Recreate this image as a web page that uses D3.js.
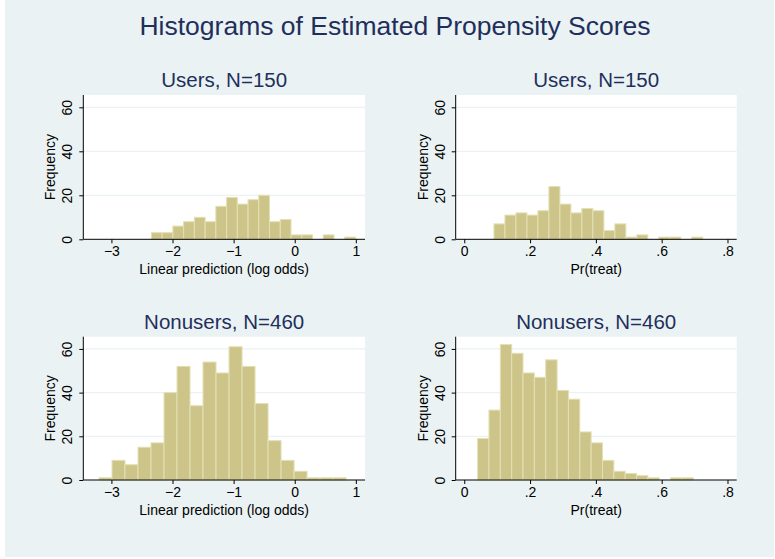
<!DOCTYPE html>
<html>
<head>
<meta charset="utf-8">
<script src="https://cdn.jsdelivr.net/npm/d3@7"></script>
<style>
  body { margin: 0; background: #fff; }
  text { font-family: "Liberation Sans", Arial, sans-serif; }
</style>
</head>
<body>
<div id="chart"></div>
<script>
// histogram counts (19 equal-width bins each)
var usersLogit    = [3, 3, 6, 8, 10, 8, 15, 19, 16, 18, 20, 8, 9, 2, 2, 0, 2, 0, 1];
var nonusersLogit = [1, 9, 7, 15, 17, 40, 52, 34, 54, 49, 61, 52, 35, 18, 9, 4, 1, 1, 1];
var usersPr       = [7, 11, 12, 11, 13, 24, 16, 12, 14, 13, 4, 7, 1, 2, 0, 1, 1, 0, 1];
var nonusersPr    = [19, 32, 62, 58, 49, 47, 55, 41, 37, 22, 17, 9, 4, 3, 2, 1, 0, 1, 1];

// first bin edge and bin width of each histogram
var binStart = { usersLogit: -2.345, nonusersLogit: -3.203, usersPr: 0.0903, nonusersPr: 0.0406 };
var binWidth = { usersLogit: 0.1757, nonusersLogit: 0.2128, usersPr: 0.0334, nonusersPr: 0.0345 };

var logitTicks = [-3, -2, -1, 0, 1];
var prTicks = [0, 0.2, 0.4, 0.6, 0.8];
var freqTicks = [0, 20, 40, 60];

var width = 775, height = 559;

var svg = d3.select("#chart").append("svg")
    .attr("width", width)
    .attr("height", height);

// graph region background
svg.append("rect")
    .attr("x", 5).attr("y", 0)
    .attr("width", 769).attr("height", 557)
    .attr("fill", "#eaf2f3");

svg.append("text")
    .attr("x", 395)
    .attr("y", 35)
    .attr("text-anchor", "middle")
    .attr("font-size", "26.5px")
    .attr("fill", "#1f2f5c")
    .text("Histograms of Estimated Propensity Scores");

var logitFmt = d => d3.format("d")(d).replace("-", "\u2212");
var prFmt = d => d === 0 ? "0" : d3.format(".1f")(d).replace(/^0/, "");

var panels = [
  { key: "usersLogit", counts: usersLogit, title: "Users, N=150", xlab: "Linear prediction (log odds)",
    x0: 83.3, x1: 365, top: 95, bottom: 239.3, dom: [-3.46, 1.15], ticks: logitTicks, fmt: logitFmt },
  { key: "usersPr", counts: usersPr, title: "Users, N=150", xlab: "Pr(treat)",
    x0: 455.7, x1: 736.7, top: 95, bottom: 239.3, dom: [-0.026, 0.828], ticks: prTicks, fmt: prFmt },
  { key: "nonusersLogit", counts: nonusersLogit, title: "Nonusers, N=460", xlab: "Linear prediction (log odds)",
    x0: 83.3, x1: 365, top: 336.7, bottom: 480, dom: [-3.46, 1.15], ticks: logitTicks, fmt: logitFmt },
  { key: "nonusersPr", counts: nonusersPr, title: "Nonusers, N=460", xlab: "Pr(treat)",
    x0: 455.7, x1: 736.7, top: 336.7, bottom: 480, dom: [-0.026, 0.828], ticks: prTicks, fmt: prFmt }
];

panels.forEach(function(p) {
    var x = d3.scaleLinear().domain(p.dom).range([p.x0, p.x1]);
    var y = d3.scaleLinear().domain([0, 65.6]).range([p.bottom, p.top]);

    var bins = p.counts.map(function(c, i) {
        var lo = binStart[p.key] + i * binWidth[p.key];
        return { lo: lo, hi: lo + binWidth[p.key], n: c };
    });

    var g = svg.append("g");

    // plot region
    g.append("rect")
        .attr("x", p.x0).attr("y", p.top)
        .attr("width", p.x1 - p.x0).attr("height", p.bottom - p.top)
        .attr("fill", "#ffffff");

    // gridlines
    g.selectAll(".grid")
        .data(freqTicks.filter(d => d > 0))
        .enter().append("line")
        .attr("x1", p.x0).attr("x2", p.x1)
        .attr("y1", d => y(d)).attr("y2", d => y(d))
        .attr("stroke", "#eaf2f3")
        .attr("stroke-width", 1.2);

    // bars
    g.selectAll(".bar")
        .data(bins.filter(d => d.n > 0))
        .enter().append("rect")
        .attr("x", d => x(d.lo))
        .attr("y", d => y(d.n))
        .attr("width", d => x(d.hi) - x(d.lo))
        .attr("height", d => y(0) - y(d.n))
        .attr("fill", "#cdc489")
        .attr("stroke", "#e4e0b3")
        .attr("stroke-width", 1);

    // x axis
    var xAxis = d3.axisBottom(x)
        .tickValues(p.ticks)
        .tickSize(4)
        .tickPadding(3)
        .tickFormat(p.fmt);
    var xg = g.append("g")
        .attr("transform", `translate(0, ${p.bottom})`)
        .call(xAxis);
    xg.select(".domain").attr("d", `M${p.x0},0H${p.x1}`).attr("stroke", "#000");
    xg.selectAll(".tick line").attr("stroke", "#000");
    xg.selectAll(".tick text")
        .attr("font-size", "14px")
        .attr("font-family", "Liberation Sans, Arial, sans-serif")
        .attr("fill", "#000");

    // y axis, labels rotated like Stata
    var yAxis = d3.axisLeft(y)
        .tickValues(freqTicks)
        .tickSize(4)
        .tickFormat(d3.format("d"));
    var yg = g.append("g")
        .attr("transform", `translate(${p.x0}, 0)`)
        .call(yAxis);
    yg.select(".domain").attr("d", `M0,${p.bottom}V${p.top}`).attr("stroke", "#000");
    yg.selectAll(".tick line").attr("stroke", "#000");
    yg.selectAll(".tick text")
        .attr("x", 0).attr("dy", null)
        .attr("transform", "translate(-11, 0) rotate(-90)")
        .attr("text-anchor", "middle")
        .attr("font-size", "14px")
        .attr("font-family", "Liberation Sans, Arial, sans-serif")
        .attr("fill", "#000");

    // axis titles
    g.append("text")
        .attr("x", (p.x0 + p.x1) / 2)
        .attr("y", p.bottom + 35)
        .attr("text-anchor", "middle")
        .attr("font-size", "14px")
        .text(p.xlab);

    g.append("text")
        .attr("transform", `translate(${p.x0 - 28}, ${(p.top + p.bottom) / 2}) rotate(-90)`)
        .attr("text-anchor", "middle")
        .attr("font-size", "14px")
        .text("Frequency");

    // panel subtitle
    g.append("text")
        .attr("x", (p.x0 + p.x1) / 2)
        .attr("y", p.top - 8)
        .attr("text-anchor", "middle")
        .attr("font-size", "20.5px")
        .attr("fill", "#1f2f5c")
        .text(p.title);
});
</script>
</body>
</html>
